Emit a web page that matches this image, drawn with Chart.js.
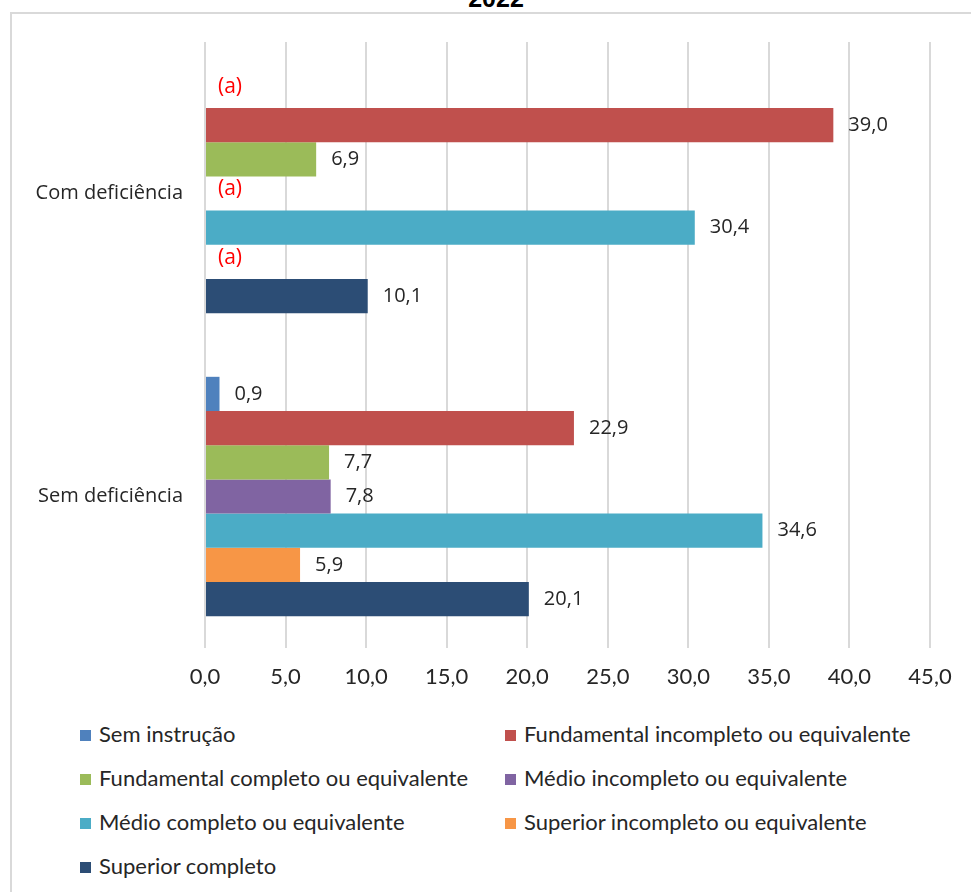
<!DOCTYPE html>
<html>
<head>
<meta charset="utf-8">
<script src="https://cdn.jsdelivr.net/npm/chart.js@4"></script>
<style>
  body { margin: 0; width: 971px; height: 892px; overflow: hidden; background: #fff; position: relative; }
  #frame { position: absolute; left: 10px; top: 12px; width: 1000px; height: 1000px; border: 2px solid #d9d9d9; }
  #title { position: absolute; left: 0; width: 992px; top: -16px; text-align: center; font: bold 25px "Liberation Sans", Arial, sans-serif; color: #000; }
  #wrap { position: absolute; left: 0; top: 0; width: 971px; height: 700px; }
  #legend { position: absolute; left: 80px; top: 711px; display: grid; grid-template-columns: 425px 450px; grid-auto-rows: 44px; align-items: center;
            font: 22px Lato, sans-serif; color: #262626; }
  #legend span.box { display: inline-block; width: 11px; height: 11px; margin-right: 8px; vertical-align: 1px; }
</style>
</head>
<body>
<div id="frame"></div>
<div id="title">2022</div>
<div id="wrap"><canvas id="chart"></canvas></div>
<div id="legend"></div>
<script>
const categories = ["Com deficiência", "Sem deficiência"];
const seriesNames = [
  "Sem instrução",
  "Fundamental incompleto ou equivalente",
  "Fundamental completo ou equivalente",
  "Médio incompleto ou equivalente",
  "Médio completo ou equivalente",
  "Superior incompleto ou equivalente",
  "Superior completo"
];
const seriesColors = ["#4F81BD", "#C0504D", "#9BBB59", "#8064A2", "#4BACC6", "#F79646", "#2C4D75"];
// null = (a) in the source, no value shown
const comDeficiencia = [null, 39.0, 6.9, null, 30.4, null, 10.1];
const semDeficiencia = [0.9, 22.9, 7.7, 7.8, 34.6, 5.9, 20.1];
const xTicks = [0, 5, 10, 15, 20, 25, 30, 35, 40, 45];

const fmt = v => v.toFixed(1).replace(".", ",");

const valueLabels = {
  id: "valueLabels",
  afterDatasetsDraw(chart) {
    const c = chart.ctx;
    c.save();
    c.textBaseline = "middle";
    c.textAlign = "left";
    chart.data.datasets.forEach((ds, i) => {
      chart.getDatasetMeta(i).data.forEach((bar, j) => {
        const v = ds.data[j];
        if (v === null) {
          c.font = '21px "Open Sans"';
          c.fillStyle = "#FF0000";
          c.fillText("(a)", bar.x + 13, bar.y - 4);
        } else {
          c.font = '20px "Open Sans"';
          c.fillStyle = "#262626";
          c.fillText(fmt(v), bar.x + 15, bar.y);
        }
      });
    });
    c.restore();
  }
};

const datasets = seriesNames.map((name, i) => ({
  label: name,
  data: [comDeficiencia[i], semDeficiencia[i]],
  backgroundColor: seriesColors[i],
  borderWidth: 0,
  barPercentage: 1,
  categoryPercentage: 0.79
}));

new Chart(document.getElementById("chart"), {
  type: "bar",
  data: { labels: categories, datasets: datasets },
  plugins: [valueLabels],
  options: {
    indexAxis: "y",
    responsive: true,
    maintainAspectRatio: false,
    animation: false,
    layout: { padding: { top: 42, right: 41, left: 0, bottom: 0 } },
    plugins: { legend: { display: false }, title: { display: false }, tooltip: { enabled: false } },
    scales: {
      x: {
        min: 0,
        max: 45,
        afterBuildTicks: s => { s.ticks = xTicks.map(v => ({ value: v })); },
        afterFit: s => { s.height = 52; },
        grid: { color: "#d9d9d9", lineWidth: 2, drawTicks: false },
        border: { display: false },
        ticks: { padding: 16, color: "#262626", font: { family: "Lato", size: 22 }, callback: v => fmt(v) }
      },
      y: {
        afterFit: s => { s.width = 205; },
        grid: { display: false },
        border: { display: false },
        ticks: { padding: 14, color: "#262626", font: { family: "Open Sans", size: 20 } }
      }
    }
  }
});

const legend = document.getElementById("legend");
seriesNames.forEach((name, i) => {
  const item = document.createElement("div");
  const box = document.createElement("span");
  box.className = "box";
  box.style.background = seriesColors[i];
  item.appendChild(box);
  item.appendChild(document.createTextNode(name));
  legend.appendChild(item);
});
</script>
</body>
</html>
